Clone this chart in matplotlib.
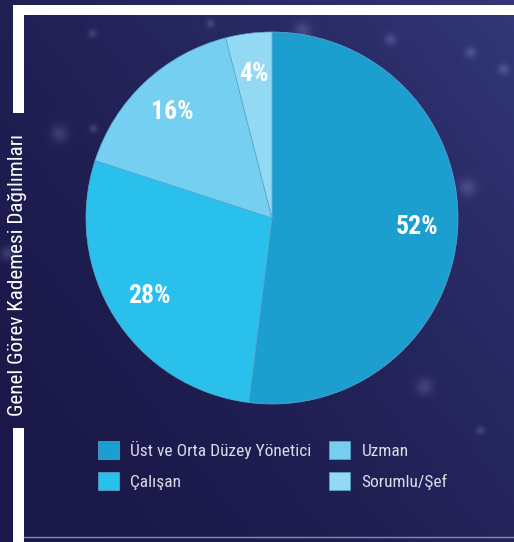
import numpy as np
import matplotlib
matplotlib.use("Agg")
import matplotlib.pyplot as plt
from matplotlib.patches import Rectangle

# data
labels = ["Üst ve Orta Düzey Yönetici", "Çalışan", "Uzman", "Sorumlu/Şef"]
values = [52, 28, 16, 4]
colors = ["#1c9ecf", "#29c1ec", "#74cff0", "#94d9f3"]
title = "Genel Görev Kademesi Dağılımları"

W, H = 514, 542
plt.rcParams['font.family'] = ['Roboto Condensed', 'DejaVu Sans']

fig = plt.figure(figsize=(W / 100, H / 100), dpi=100)

# background: navy gradient with a few soft glows
bg = fig.add_axes([0, 0, 1, 1])
yy, xx = np.mgrid[0:H, 0:W]
t = (xx / W) * 0.55 + (1 - yy / H) * 0.45
c0 = np.array([0x1a, 0x18, 0x48]) / 255
c1 = np.array([0x33, 0x37, 0x78]) / 255
img = c0 + (c1 - c0) * t[..., None] ** 1.6
glows = [(302, 30, 6), (390, 39, 4), (470, 52, 4), (503, 69, 4), (92, 33, 3),
         (210, 23, 3), (59, 133, 6), (93, 128, 3), (467, 187, 6), (424, 386, 6),
         (7, 253, 5), (480, 430, 3)]
for gx, gy, r in glows:
    g = np.exp(-((xx - gx) ** 2 + (yy - gy) ** 2) / (2 * r ** 2))
    img = img + g[..., None] * 0.12
img = np.clip(img, 0, 1)
bg.imshow(img, extent=(0, W, H, 0), aspect='auto')
bg.set_xlim(0, W)
bg.set_ylim(H, 0)
bg.axis('off')

# white frame pieces
bg.add_patch(Rectangle((13, 5), W - 13, 10, color='white', lw=0))
bg.add_patch(Rectangle((13, 5), 11, 108, color='white', lw=0))
bg.add_patch(Rectangle((13, 428), 11, H - 428, color='white', lw=0))
bg.plot([24, W], [537, 537], color='#8a8aa8', lw=1)
bg.text(18, 275, title, rotation=90, ha='center', va='center',
        color='white', fontsize=15.2)

# pie
cx, cy, R = 272, 218, 186
ax = fig.add_axes([(cx - R) / W, (H - cy - R) / H, 2 * R / W, 2 * R / H])
wedges, _, autotexts = ax.pie(values, colors=colors, startangle=90, counterclock=False,
                              autopct='%d%%', pctdistance=0.78,
                              wedgeprops=dict(linewidth=0.5, edgecolor='#5aa8d0'))
for a in autotexts:
    a.set_color('white')
    a.set_fontsize(18.5)
    a.set_fontweight('bold')
ax.set_xlim(-1, 1)
ax.set_ylim(-1, 1)

fig.legend(wedges, labels, ncol=2, loc='upper left',
           bbox_to_anchor=(98 / W, 1 - 441 / H), frameon=False,
           borderpad=0, borderaxespad=0,
           fontsize=12.5, handlelength=1.22, handleheight=1.22,
           handletextpad=0.65, labelspacing=0.72, columnspacing=1.0,
           labelcolor='#dcdcea')

fig.savefig("out.png", dpi=100)
